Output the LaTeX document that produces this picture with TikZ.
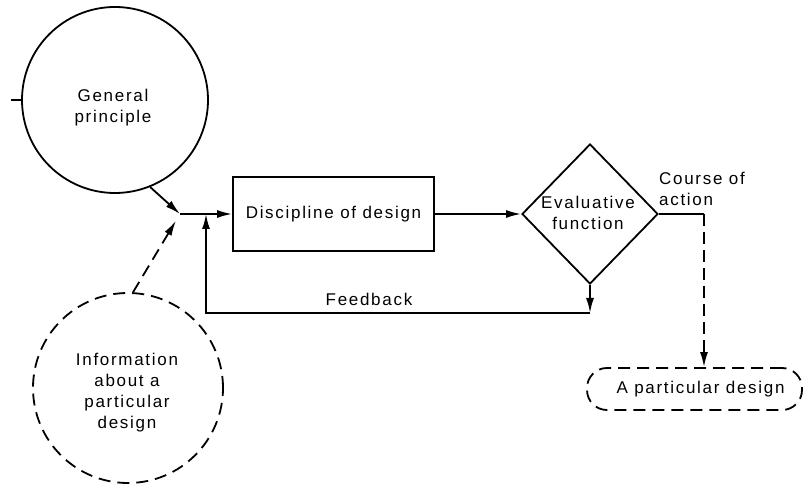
\documentclass[tikz,border=0pt]{standalone}
\usepackage{fontspec}
\setmainfont{Liberation Sans}[LetterSpace=10]
\usetikzlibrary{arrows.meta,shapes.geometric}
\begin{document}
\begin{tikzpicture}[x=1pt,y=-1pt,
  ln/.style={line width=1.8pt},
  arr/.style={ln,-{Latex[length=15pt,width=8pt]}},
  dsh/.style={dash pattern=on 12pt off 7pt},
  txt/.style={font=\fontsize{17}{21}\selectfont, align=center, inner sep=0pt}]
\useasboundingbox (0,0) rectangle (807,486);
\node[circle, ln, draw, minimum size=186pt, inner sep=0pt] (gp) at (115,100) {};
\node[txt] (gpt) at (113,108) {General\\principle};
\node[circle, ln, draw, dsh, minimum size=190pt, inner sep=0pt] (info) at (128,388) {};
\node[txt] (infot) at (127,393) {Information\\about a\\particular\\design};
\coordinate (J) at (180,214);
\coordinate (F) at (206,214);
\node[draw, ln, txt, minimum width=201pt, minimum height=74pt] (disc) at (333.5,214) {Discipline of design};
\node[diamond, draw, ln, minimum width=136pt, minimum height=140pt, inner sep=0pt] (ev) at (590,214) {};
\node[txt] (evt) at (588,213) {Evaluative\\function};
\coordinate (C) at (704,214);
\node[draw, ln, dsh, txt, rounded corners=20pt, minimum width=215pt, minimum height=42pt] (pd) at (694.5,389) {\hspace*{12pt}A particular design};
\coordinate (FR) at (590,313);
\coordinate (FL) at (206,313);
\node[txt] (fbt) at (369,299) {Feedback};
\node[txt, align=left, anchor=west] (coa) at (659,189) {Course of\\action};
\draw[arr] (gp.-68) -- (J);
\draw[arr, dsh, shorten >=8pt] (info.87) -- (J);
\draw[arr] (J) -- (disc.west);
\draw[arr] (disc.east) -- (ev.west);
\draw[arr] (ev.south) -- (FR);
\draw[arr] (FR) -- (FL) -- (F);
\draw[ln] (ev.east) -- (C);
\draw[arr, dash pattern=on 12pt off 6pt] (C) -- (C |- pd.north);
\draw[ln] (gp.west) -- ++(-10,0);
\end{tikzpicture}
\end{document}
